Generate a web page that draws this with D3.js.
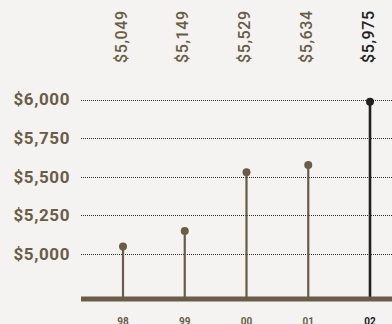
<!DOCTYPE html>
<html>
<head>
<meta charset="utf-8">
<script src="https://cdn.jsdelivr.net/npm/d3@7"></script>
<style>
  html, body { margin: 0; padding: 0; background: #f4f3f1; }
  svg, svg text { font-family: Roboto, 'Liberation Sans', sans-serif; }
</style>
</head>
<body>
<div id="chart-area"></div>
<script>
const WIDTH = 392;
const HEIGHT = 324;

// data
const years = ['98', '99', '00', '01', '02'];
const values = [5049, 5149, 5529, 5576, 5985];
const valueLabels = ['$5,049', '$5,149', '$5,529', '$5,634', '$5,975'];
const yTicks = [5000, 5250, 5500, 5750, 6000];

const BROWN = '#6b5c47';
const DARK = '#222020';

const PLOT_LEFT = 81;
const BASE_Y = 299;

const x = d3.scalePoint()
  .domain(years)
  .range([123, 370]);

const y = d3.scaleLinear()
  .domain([5000, 6000])
  .range([254, 99.5]);

const colorOf = (d, i) => i === years.length - 1 ? DARK : BROWN;

const svg = d3.select('#chart-area').append('svg')
  .attr('width', WIDTH)
  .attr('height', HEIGHT);

svg.append('rect')
  .attr('width', WIDTH)
  .attr('height', HEIGHT)
  .attr('fill', '#f4f3f1');

// gridlines + y labels
const yAxis = d3.axisLeft(y)
  .tickValues(yTicks)
  .tickSize(-(WIDTH - PLOT_LEFT))
  .tickPadding(11)
  .tickFormat(d => '$' + d3.format(',')(d));

const gy = svg.append('g')
  .attr('transform', `translate(${PLOT_LEFT},0)`)
  .call(yAxis)
  .attr('font-family', null);

gy.select('.domain').remove();
gy.selectAll('.tick line')
  .attr('stroke', '#2e2e2e')
  .attr('stroke-width', 1)
  .attr('stroke-dasharray', '1,1')
  .attr('shape-rendering', 'crispEdges');
gy.selectAll('.tick text')
  .attr('fill', BROWN)
  .attr('font-size', 17)
  .attr('font-weight', 'bold')
  .attr('letter-spacing', 0.6);

// stems
svg.selectAll('line.stem')
  .data(values)
  .enter().append('line')
  .attr('class', 'stem')
  .attr('x1', (d, i) => x(years[i]))
  .attr('x2', (d, i) => x(years[i]))
  .attr('y1', d => y(d))
  .attr('y2', BASE_Y)
  .attr('stroke', colorOf)
  .attr('stroke-width', (d, i) => i === years.length - 1 ? 2.6 : 2.2);

// baseline
svg.append('line')
  .attr('x1', PLOT_LEFT)
  .attr('x2', WIDTH)
  .attr('y1', BASE_Y)
  .attr('y2', BASE_Y)
  .attr('stroke', BROWN)
  .attr('stroke-width', 5);

// dots
svg.selectAll('circle.dot')
  .data(values)
  .enter().append('circle')
  .attr('class', 'dot')
  .attr('cx', (d, i) => x(years[i]))
  .attr('cy', d => y(d))
  .attr('r', 4)
  .attr('fill', colorOf);

// rotated value labels
svg.selectAll('text.val')
  .data(valueLabels)
  .enter().append('text')
  .attr('class', 'val')
  .attr('transform', (d, i) => `translate(${x(years[i]) - 2},63) rotate(-90)`)
  .attr('dy', '0.35em')
  .attr('font-size', 16)
  .attr('font-weight', 500)
  .attr('letter-spacing', 0.6)
  .attr('fill', colorOf)
  .text(d => d);

// year labels
svg.selectAll('text.year')
  .data(years)
  .enter().append('text')
  .attr('class', 'year')
  .attr('x', d => x(d))
  .attr('y', 325)
  .attr('text-anchor', 'middle')
  .attr('font-size', 10)
  .attr('font-weight', 'bold')
  .attr('fill', (d, i) => colorOf(d, i))
  .text(d => d);
</script>
</body>
</html>
